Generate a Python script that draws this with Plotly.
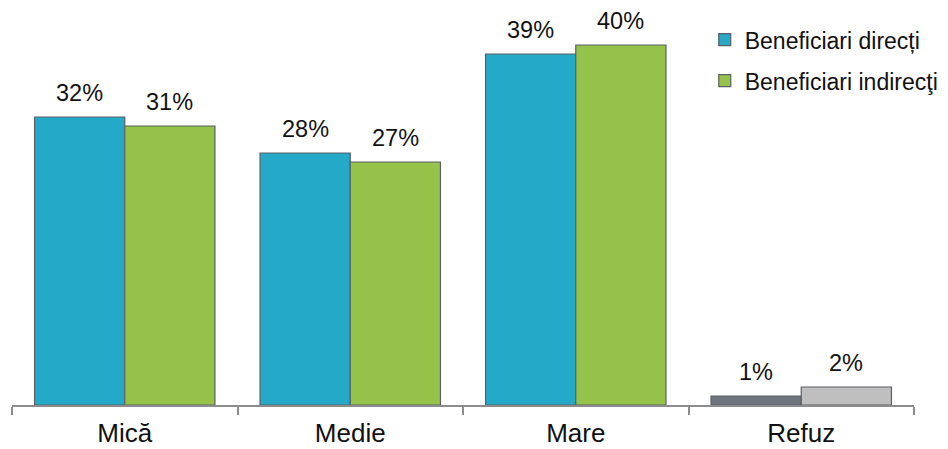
import plotly.graph_objects as go

categories = ["Mică", "Medie", "Mare", "Refuz"]
direct_vals = [32, 28, 39, 1]
indirect_vals = [31, 27, 40, 2]
series_names = ["Beneficiari direcți", "Beneficiari indirecţi"]

direct_colors = ["#25A9C8", "#25A9C8", "#25A9C8", "#6E757E"]
indirect_colors = ["#95C34A", "#95C34A", "#95C34A", "#BFBFBF"]
outline = "#5A5F66"
FONT = "Liberation Sans, Arial"

fig = go.Figure()
fig.add_trace(go.Bar(
    x=categories, y=direct_vals, name=series_names[0], legendgroup="a",
    marker=dict(color=direct_colors, line=dict(color=outline, width=1.2)),
))
fig.add_trace(go.Bar(
    x=categories, y=indirect_vals, name=series_names[1], legendgroup="b",
    marker=dict(color=indirect_colors, line=dict(color=outline, width=1.2)),
))

annotations = []
for vals, shift in ((direct_vals, -45), (indirect_vals, 45)):
    for c, v in zip(categories, vals):
        annotations.append(dict(
            x=c, y=v, text=f"{v}%", showarrow=False, xref="x", yref="y",
            xshift=shift, yshift=9, yanchor="bottom",
            font=dict(family=FONT, size=23.5, color="#111111"),
        ))

fig.update_layout(
    width=948, height=449,
    margin=dict(l=12, r=34, t=0, b=44),
    paper_bgcolor="white", plot_bgcolor="white",
    barmode="group", bargap=0.2, bargroupgap=0,
    font=dict(family=FONT, size=23, color="#111111"),
    annotations=annotations,
    legend=dict(
        x=0.768, y=0.955, xanchor="left", yanchor="top",
        traceorder="grouped", tracegroupgap=8,
        font=dict(size=23), bgcolor="rgba(0,0,0,0)",
    ),
    xaxis=dict(
        showline=True, linecolor="#8C8C8C", linewidth=1.5,
        ticks="outside", tickson="boundaries", ticklen=8, tickcolor="#8C8C8C",
        tickwidth=1.5, tickfont=dict(size=26), ticklabelstandoff=4, showgrid=False,
    ),
    yaxis=dict(range=[0, 45], visible=False, showgrid=False),
)

fig.write_html("out.html")
